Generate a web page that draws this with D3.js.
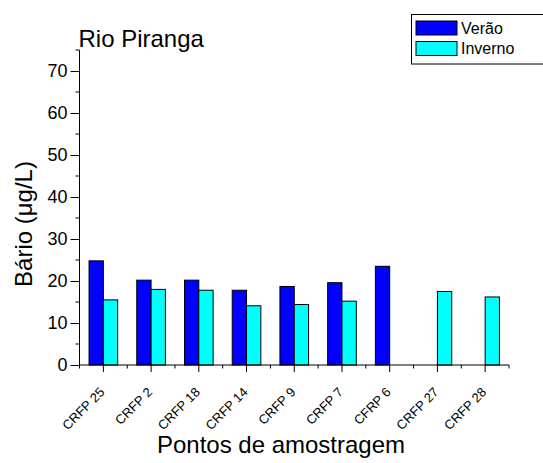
<!DOCTYPE html>
<html>
<head>
<meta charset="utf-8">
<script src="https://cdn.jsdelivr.net/npm/d3@7"></script>
<style>
  body { margin: 0; background: #fff; }
  text { font-family: "Liberation Sans", Arial, sans-serif; fill: #000; }
</style>
</head>
<body>
<div id="chart"></div>
<script>
////
// DATA
////
var pontos = ["CRFP 25", "CRFP 2", "CRFP 18", "CRFP 14", "CRFP 9", "CRFP 7", "CFRP 6", "CRFP 27", "CRFP 28"];
var verao = [24.8, 20.2, 20.2, 17.8, 18.7, 19.6, 23.5, null, null];
var inverno = [15.5, 18.0, 17.8, 14.1, 14.4, 15.2, null, 17.5, 16.2];
var y_ticks = [0, 10, 20, 30, 40, 50, 60, 70];
var y_minor = [5, 15, 25, 35, 45, 55, 65, 75];
var series_names = ["Verão", "Inverno"];
var series_colors = ["#0000ff", "#00ffff"];

////
// CONTAINER
////
const W = 543, H = 463;
const svg = d3.select("#chart").append("svg")
    .attr("width", W)
    .attr("height", H);

const plot = { left: 79.5, right: 509, top: 50, bottom: 365 };

var x = d3.scaleBand()
    .domain(pontos)
    .range([plot.left, plot.right])
    .padding(0);

var y = d3.scaleLinear()
    .domain([0, 75])
    .range([plot.bottom, plot.top]);

var barW = x.bandwidth() * 0.3;

// bars
[verao, inverno].forEach((vals, s) => {
    svg.append("g").selectAll("rect")
        .data(pontos.map((p, i) => ({ p: p, v: vals[i] })).filter(d => d.v != null))
        .enter()
        .append("rect")
        .attr("x", d => x(d.p) + x.bandwidth() / 2 + (s - 1) * barW)
        .attr("y", d => y(d.v))
        .attr("width", barW)
        .attr("height", d => y(0) - y(d.v))
        .style("fill", series_colors[s])
        .style("stroke", "#000")
        .style("stroke-width", 1);
});

// y axis
var y_axis = svg.append("g")
    .attr("transform", `translate(${plot.left},0)`)
    .call(d3.axisLeft(y).tickValues(y_ticks).tickSize(9).tickPadding(3));
y_axis.select(".domain").attr("d", `M0,${plot.top}V${plot.bottom}`);
y_axis.selectAll(".tick text").style("font-size", "18px");
svg.append("g").selectAll("line")
    .data(y_minor)
    .enter().append("line")
    .attr("x1", plot.left - 4).attr("x2", plot.left)
    .attr("y1", d => y(d)).attr("y2", d => y(d))
    .style("stroke", "#000");

// x axis
var x_axis = svg.append("g")
    .attr("transform", `translate(0,${plot.bottom})`)
    .call(d3.axisBottom(x).tickSize(7).tickPadding(4));
x_axis.select(".domain").attr("d", `M${plot.left},0H${plot.right}`);
x_axis.selectAll(".tick text")
    .style("font-size", "13px")
    .attr("text-anchor", "end")
    .attr("x", 0)
    .attr("y", 0)
    .attr("dy", "0")
    .attr("transform", "translate(2,28) rotate(-45)");
svg.append("g").selectAll("line")
    .data(pontos.map(p => x(p)).concat([plot.right]))
    .enter().append("line")
    .attr("x1", d => d).attr("x2", d => d)
    .attr("y1", plot.bottom).attr("y2", plot.bottom + 3.5)
    .style("stroke", "#000");

// titles
svg.append("text")
    .attr("x", plot.left - 1)
    .attr("y", 47)
    .style("font-size", "24px")
    .text("Rio Piranga");

svg.append("text")
    .attr("transform", "translate(32,224) rotate(-90)")
    .attr("text-anchor", "middle")
    .style("font-size", "24px")
    .text("Bário (μg/L)");

svg.append("text")
    .attr("x", 281)
    .attr("y", 453)
    .attr("text-anchor", "middle")
    .style("font-size", "24px")
    .text("Pontos de amostragem");

// legend
var legend = svg.append("g");
legend.append("rect")
    .attr("x", 411.5).attr("y", 14.5)
    .attr("width", 140).attr("height", 49.5)
    .style("fill", "#fff").style("stroke", "#000");
series_names.forEach((name, i) => {
    legend.append("rect")
        .attr("x", 416).attr("y", 21 + i * 20.5)
        .attr("width", 41).attr("height", 14)
        .style("fill", series_colors[i]).style("stroke", "#000");
    legend.append("text")
        .attr("x", 461).attr("y", 33.5 + i * 20.5)
        .style("font-size", "16px")
        .text(name);
});
</script>
</body>
</html>
